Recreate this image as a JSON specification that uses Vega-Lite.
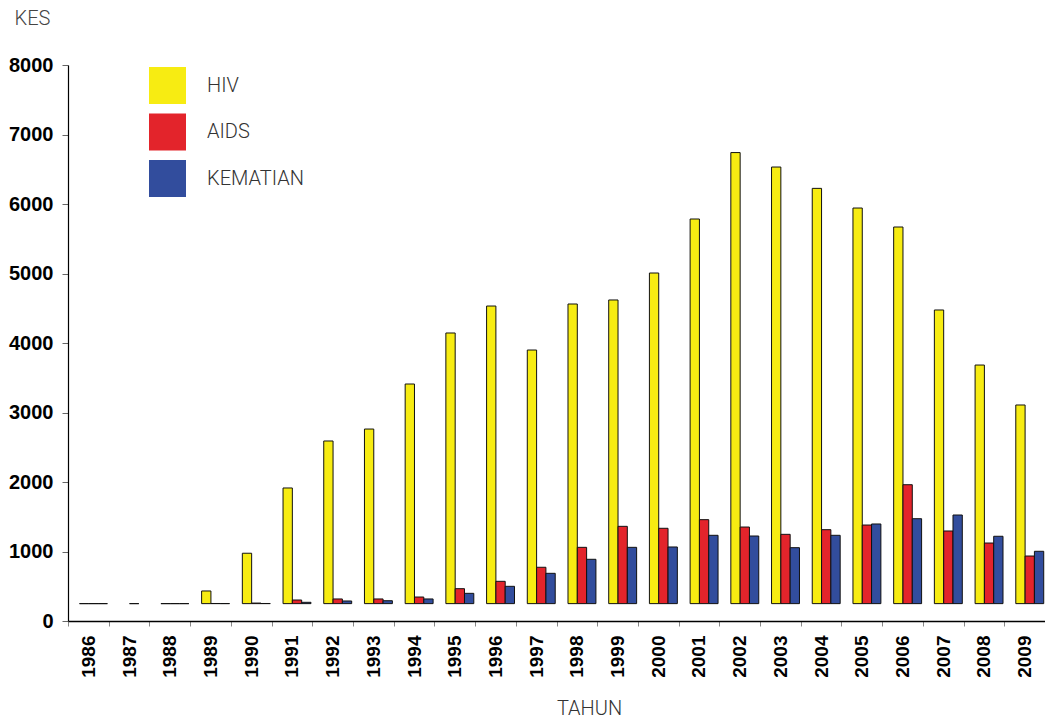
{
  "$schema": "https://vega.github.io/schema/vega-lite/v6.json",
  "autosize": {"type": "none"},
  "padding": {"left": 68, "top": 65, "right": 0, "bottom": 97},
  "width": 977,
  "height": 556,
  "background": "white",
  "config": {"view": {"stroke": null}},
  "data": {"values": [
    {"year": "1986", "series": "HIV", "value": 250},
    {"year": "1986", "series": "AIDS", "value": 250},
    {"year": "1986", "series": "KEMATIAN", "value": 250},
    {"year": "1987", "series": "AIDS", "value": 250},
    {"year": "1988", "series": "HIV", "value": 250},
    {"year": "1988", "series": "AIDS", "value": 250},
    {"year": "1988", "series": "KEMATIAN", "value": 250},
    {"year": "1989", "series": "HIV", "value": 432},
    {"year": "1989", "series": "AIDS", "value": 252},
    {"year": "1989", "series": "KEMATIAN", "value": 251},
    {"year": "1990", "series": "HIV", "value": 975},
    {"year": "1990", "series": "AIDS", "value": 258},
    {"year": "1990", "series": "KEMATIAN", "value": 252},
    {"year": "1991", "series": "HIV", "value": 1914},
    {"year": "1991", "series": "AIDS", "value": 302},
    {"year": "1991", "series": "KEMATIAN", "value": 269},
    {"year": "1992", "series": "HIV", "value": 2590},
    {"year": "1992", "series": "AIDS", "value": 317},
    {"year": "1992", "series": "KEMATIAN", "value": 288},
    {"year": "1993", "series": "HIV", "value": 2762},
    {"year": "1993", "series": "AIDS", "value": 317},
    {"year": "1993", "series": "KEMATIAN", "value": 292},
    {"year": "1994", "series": "HIV", "value": 3410},
    {"year": "1994", "series": "AIDS", "value": 345},
    {"year": "1994", "series": "KEMATIAN", "value": 317},
    {"year": "1995", "series": "HIV", "value": 4144},
    {"year": "1995", "series": "AIDS", "value": 465},
    {"year": "1995", "series": "KEMATIAN", "value": 398},
    {"year": "1996", "series": "HIV", "value": 4532},
    {"year": "1996", "series": "AIDS", "value": 571},
    {"year": "1996", "series": "KEMATIAN", "value": 499},
    {"year": "1997", "series": "HIV", "value": 3899},
    {"year": "1997", "series": "AIDS", "value": 773},
    {"year": "1997", "series": "KEMATIAN", "value": 686},
    {"year": "1998", "series": "HIV", "value": 4561},
    {"year": "1998", "series": "AIDS", "value": 1060},
    {"year": "1998", "series": "KEMATIAN", "value": 888},
    {"year": "1999", "series": "HIV", "value": 4619},
    {"year": "1999", "series": "AIDS", "value": 1362},
    {"year": "1999", "series": "KEMATIAN", "value": 1060},
    {"year": "2000", "series": "HIV", "value": 5007},
    {"year": "2000", "series": "AIDS", "value": 1334},
    {"year": "2000", "series": "KEMATIAN", "value": 1065},
    {"year": "2001", "series": "HIV", "value": 5784},
    {"year": "2001", "series": "AIDS", "value": 1458},
    {"year": "2001", "series": "KEMATIAN", "value": 1233},
    {"year": "2002", "series": "HIV", "value": 6740},
    {"year": "2002", "series": "AIDS", "value": 1352},
    {"year": "2002", "series": "KEMATIAN", "value": 1223},
    {"year": "2003", "series": "HIV", "value": 6532},
    {"year": "2003", "series": "AIDS", "value": 1247},
    {"year": "2003", "series": "KEMATIAN", "value": 1055},
    {"year": "2004", "series": "HIV", "value": 6225},
    {"year": "2004", "series": "AIDS", "value": 1314},
    {"year": "2004", "series": "KEMATIAN", "value": 1233},
    {"year": "2005", "series": "HIV", "value": 5942},
    {"year": "2005", "series": "AIDS", "value": 1381},
    {"year": "2005", "series": "KEMATIAN", "value": 1396},
    {"year": "2006", "series": "HIV", "value": 5669},
    {"year": "2006", "series": "AIDS", "value": 1961},
    {"year": "2006", "series": "KEMATIAN", "value": 1472},
    {"year": "2007", "series": "HIV", "value": 4475},
    {"year": "2007", "series": "AIDS", "value": 1295},
    {"year": "2007", "series": "KEMATIAN", "value": 1525},
    {"year": "2008", "series": "HIV", "value": 3683},
    {"year": "2008", "series": "AIDS", "value": 1122},
    {"year": "2008", "series": "KEMATIAN", "value": 1219},
    {"year": "2009", "series": "HIV", "value": 3108},
    {"year": "2009", "series": "AIDS", "value": 935},
    {"year": "2009", "series": "KEMATIAN", "value": 1003}
  ]},
  "mark": {"type": "bar", "stroke": "#111111", "strokeWidth": 1},
  "encoding": {
    "x": {
      "field": "year", "type": "nominal", "sort": "ascending",
      "scale": {"paddingInner": 0, "paddingOuter": 0},
      "axis": {
        "title": "TAHUN",
        "titleX": 521, "titleY": 87, "titleAlign": "center", "titleBaseline": "middle",
        "titleFont": "Roboto", "titleFontWeight": 300, "titleFontSize": 20, "titleColor": "#333333",
        "labelAngle": -90, "labelFont": "Liberation Sans", "labelFontWeight": "bold", "labelFontSize": 19,
        "labelColor": "#000000", "labelPadding": 9,
        "tickBand": "extent", "tickSize": 5, "tickColor": "#888888",
        "domainColor": "#000000", "domainWidth": 1.5
      }
    },
    "xOffset": {
      "field": "series", "type": "nominal",
      "scale": {"domain": ["HIV", "AIDS", "KEMATIAN"], "paddingInner": 0, "paddingOuter": 0.686, "align": 0.9}
    },
    "y": {
      "field": "value", "type": "quantitative",
      "scale": {"domain": [0, 8000], "nice": false, "zero": true},
      "axis": {
        "title": "KES", "values": [0, 1000, 2000, 3000, 4000, 5000, 6000, 7000, 8000], "format": "d",
        "titleAngle": 0, "titleX": -54, "titleY": -47, "titleAlign": "left", "titleBaseline": "middle",
        "titleFont": "Roboto", "titleFontWeight": 300, "titleFontSize": 20, "titleColor": "#444444",
        "labelFont": "Liberation Sans", "labelFontWeight": "bold", "labelFontSize": 20, "labelColor": "#000000",
        "labelPadding": 9, "tickSize": 6, "tickColor": "#666666",
        "domainColor": "#000000", "domainWidth": 1.2, "grid": false
      }
    },
    "y2": {"datum": 250},
    "color": {
      "field": "series", "type": "nominal",
      "scale": {"domain": ["HIV", "AIDS", "KEMATIAN"], "range": ["#f7ec12", "#e3242b", "#324d9d"]},
      "legend": {
        "title": null, "orient": "none", "legendX": 81, "legendY": 2, "padding": 0,
        "symbolType": "square", "symbolSize": 1369, "symbolStrokeWidth": 0, "symbolOpacity": 1,
        "labelFont": "Roboto", "labelFontWeight": 300, "labelFontSize": 20, "labelColor": "#333333",
        "labelOffset": 21, "rowPadding": 9.5
      }
    }
  }
}
